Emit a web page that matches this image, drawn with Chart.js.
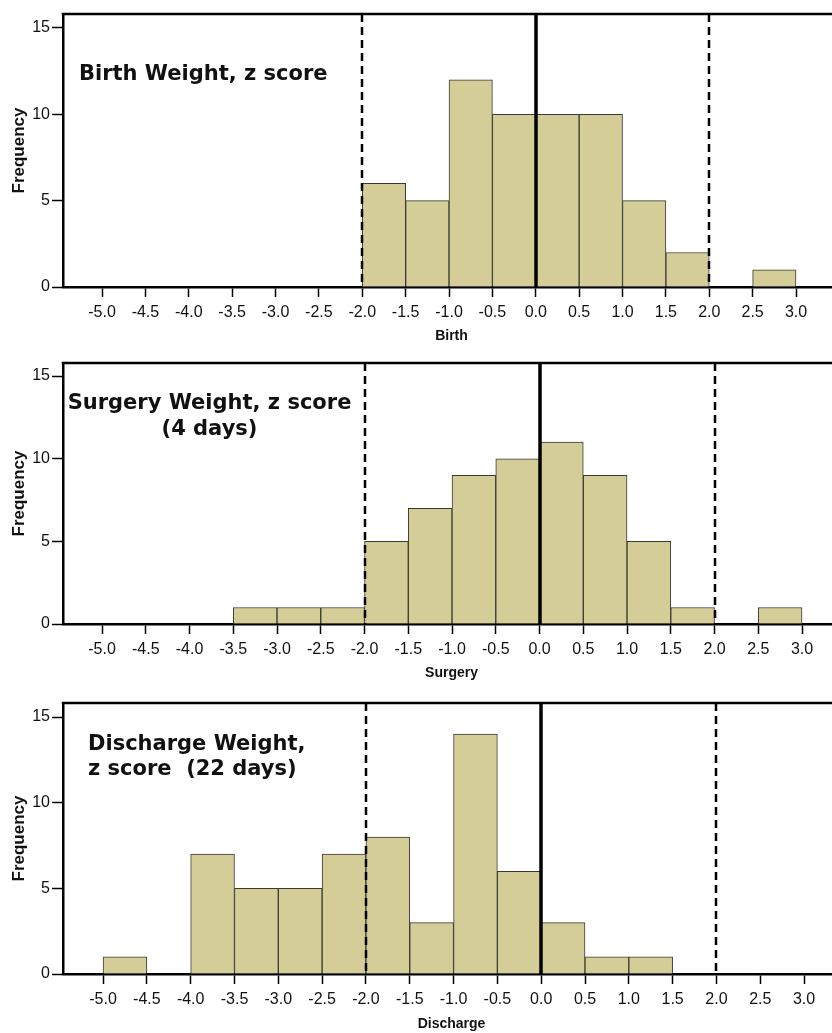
<!DOCTYPE html>
<html><head><meta charset="utf-8">
<script src="https://cdn.jsdelivr.net/npm/chart.js@4/dist/chart.umd.min.js"></script>
<style>
html,body{margin:0;padding:0;background:#fff;overflow:hidden;width:832px;height:1033px;position:relative;}
canvas.panel{position:absolute;left:0;}
</style></head><body>
<canvas id="c1" class="panel" width="840" height="345" style="top:0px"></canvas>
<canvas id="c3" class="panel" width="840" height="353" style="top:680px"></canvas>
<canvas id="c2" class="panel" width="840" height="345" style="top:345px"></canvas>
<script>
// ---- data ----
const binWidth = 0.5;
const xTickValues = [-5.0,-4.5,-4.0,-3.5,-3.0,-2.5,-2.0,-1.5,-1.0,-0.5,0.0,0.5,1.0,1.5,2.0,2.5,3.0];
const yTickValues = [0,5,10,15];
const refLines = [-2, 0, 2];

const birthBinStarts = [-2.0,-1.5,-1.0,-0.5,0.0,0.5,1.0,1.5,2.0,2.5];
const birthCounts    = [6,5,12,10,10,10,5,2,0,1];

const surgeryBinStarts = [-3.5,-3.0,-2.5,-2.0,-1.5,-1.0,-0.5,0.0,0.5,1.0,1.5,2.0,2.5];
const surgeryCounts    = [1,1,1,5,7,9,10,11,9,5,1,0,1];

const dischargeBinStarts = [-5.0,-4.5,-4.0,-3.5,-3.0,-2.5,-2.0,-1.5,-1.0,-0.5,0.0,0.5,1.0];
const dischargeCounts    = [1,0,7,5,5,7,8,3,14,6,3,1,1];

const xAxisTitles = ['Birth','Surgery','Discharge'];
const panelTitles = [
  ['Birth Weight, z score'],
  ['Surgery Weight, z score','(4 days)'],
  ['Discharge Weight,','z score  (22 days)']
];
const yAxisTitle = 'Frequency';

// ---- drawing ----
const overlay = {
  id:'overlay',
  afterDatasetsDraw(chart){
    chart.ctx.letterSpacing = '1.5px';
  },
  afterDraw(chart, args, o){
    const {ctx, chartArea:a} = chart;
    const x = chart.scales.x;
    ctx.letterSpacing = '0px';
    ctx.save();
    refLines.forEach(v=>{
      const px = Math.round(x.getPixelForValue(v));
      ctx.beginPath();
      ctx.strokeStyle = '#000';
      if (v === 0){ ctx.lineWidth = 3.5; ctx.setLineDash([]); }
      else { ctx.lineWidth = 2.5; ctx.setLineDash([8,5]); }
      ctx.moveTo(px, a.top); ctx.lineTo(px, a.bottom);
      ctx.stroke();
    });
    ctx.setLineDash([]);
    ctx.lineWidth = 2.5;
    ctx.beginPath();
    ctx.moveTo(a.left-1.25, a.top); ctx.lineTo(chart.width, a.top);
    ctx.stroke();
    ctx.font = 'bold 21px "DejaVu Sans"';
    ctx.fillStyle = '#111';
    ctx.textAlign = o.align;
    ctx.textBaseline = 'alphabetic';
    o.lines.forEach((t,i)=>ctx.fillText(t, a.left + o.dx, a.top + o.dy + i*o.lh));
    ctx.restore();
  }
};

function makeChart(id, starts, counts, idx, cfg){
  const data = starts.map((s,i)=>({x: s + binWidth/2, y: counts[i]})).filter(d=>d.y>0);
  const el = document.getElementById(id);
  return new Chart(el, {
    type:'bar',
    data:{datasets:[{
      data,
      backgroundColor:'#d4cd98',
      borderColor:'#3b3a30',
      borderWidth:1,
      barPercentage:1,
      categoryPercentage:1
    }]},
    options:{
      responsive:false,
      animation:false,
      devicePixelRatio:1,
      layout:{padding:{top:cfg.top, left:0, right:0, bottom:0}},
      plugins:{
        legend:{display:false},
        tooltip:{enabled:false},
        overlay:{lines:panelTitles[idx], align:cfg.align, dx:cfg.dx, dy:cfg.dy, lh:cfg.lh}
      },
      scales:{
        x:{
          type:'linear', min:cfg.xmin, max:cfg.xmax, offset:false, z:1,
          afterBuildTicks:s=>{s.ticks = xTickValues.map(v=>({value:v}));},
          afterFit:s=>{s.height = cfg.xh;},
          ticks:{autoSkip:false, maxRotation:0, minRotation:0, padding:6, color:'#111',
                 font:{family:'Liberation Sans', size:16},
                 callback:v=>Number(v).toFixed(1)},
          grid:{offset:false, drawOnChartArea:false, drawTicks:true, tickLength:10, tickColor:'#000', tickWidth:1.5},
          border:{display:true, color:'#000', width:2.5},
          title:{display:true, text:xAxisTitles[idx], color:'#111',
                 font:{family:'Liberation Sans', size:14, weight:'bold'}, padding:{top:0,bottom:cfg.tpb}}
        },
        y:{
          min:0, max:cfg.ymax,
          afterBuildTicks:s=>{s.ticks = yTickValues.map(v=>({value:v}));},
          afterFit:s=>{s.width = 63;},
          ticks:{padding:2, color:'#111', font:{family:'Liberation Sans', size:16}},
          grid:{drawOnChartArea:false, drawTicks:true, tickLength:11, tickColor:'#000', tickWidth:1.5},
          border:{display:true, color:'#000', width:2.5},
          title:{display:true, text:yAxisTitle, color:'#111',
                 font:{family:'Liberation Sans', size:17, weight:'bold'}, padding:{top:9,bottom:0}}
        }
      }
    },
    plugins:[overlay]
  });
}

makeChart('c1', birthBinStarts, birthCounts, 0,
  {top:14, xh:58, xmin:-5.45, xmax:3.507, ymax:15.81, align:'left', dx:16, dy:66, lh:26, tpb:0});
makeChart('c2', surgeryBinStarts, surgeryCounts, 1,
  {top:18, xh:66, xmin:-5.446, xmax:3.434, ymax:15.79, align:'center', dx:146.5, dy:46, lh:26, tpb:8});
makeChart('c3', dischargeBinStarts, dischargeCounts, 2,
  {top:23, xh:59, xmin:-5.457, xmax:3.41, ymax:15.82, align:'left', dx:25, dy:47, lh:25, tpb:0});
</script>
</body></html>
